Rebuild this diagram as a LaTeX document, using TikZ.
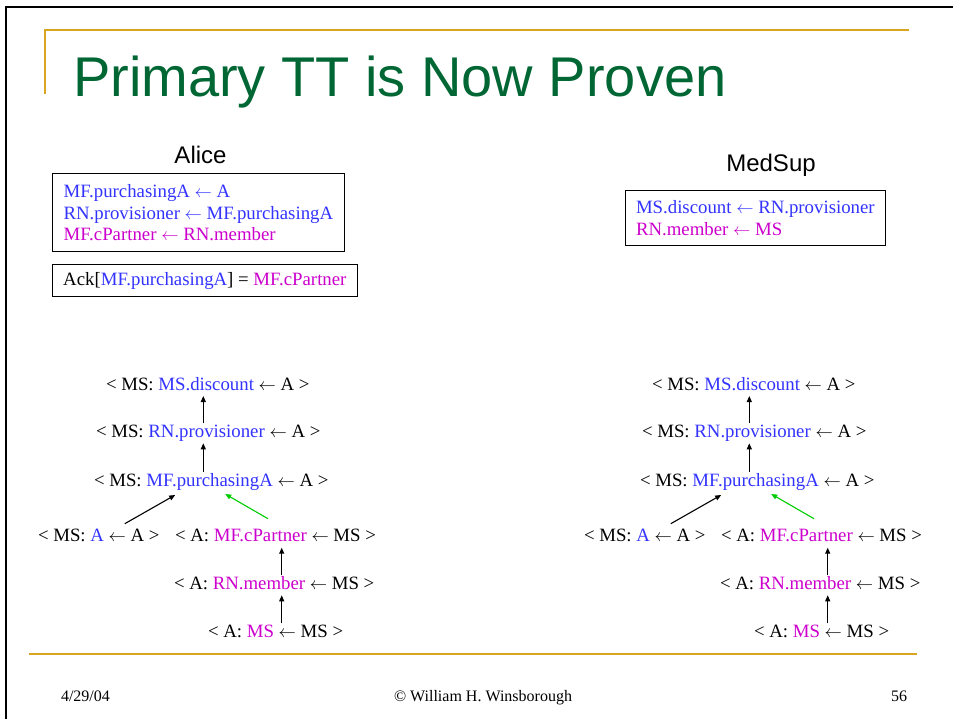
\documentclass[tikz,border=0pt]{standalone}
\usepackage{fontspec}
\setmainfont{Liberation Serif}
\newfontfamily\arialfont{Liberation Sans}
\usetikzlibrary{arrows.meta}

\definecolor{credblue}{RGB}{51,51,255}
\definecolor{credmag}{RGB}{204,0,204}
\definecolor{slidegreen}{RGB}{0,102,51}
\definecolor{slidegold}{RGB}{218,165,32}
\definecolor{chaingreen}{RGB}{0,204,0}

\newcommand{\bl}[1]{\textcolor{credblue}{#1}}
\newcommand{\mg}[1]{\textcolor{credmag}{#1}}
\newcommand{\arrowfrom}{\ensuremath{\leftarrow}}

\begin{document}
\begin{tikzpicture}[x=1pt,y=-1pt,inner sep=0pt,outer sep=0pt,
cred/.style={draw,line width=1pt,anchor=north west,align=left,font=\fontsize{18.8}{21.7}\selectfont},
stmt/.style={anchor=base west,inner xsep=0pt,inner ysep=2pt,text height=12pt,text depth=4pt,font=\fontsize{18.8}{21.7}\selectfont},
pf/.style={-{Triangle[length=6pt,width=5pt]},line width=1.1pt},
owner/.style={anchor=base,font=\arialfont\fontsize{24}{28}\selectfont},
foot/.style={font=\fontsize{16}{18}\selectfont}]

\useasboundingbox (0,0) rectangle (953,719);
\draw[line width=2.3pt] (6,719) -- (6,7) -- (953,7);
\draw[slidegold,line width=2pt] (45,94) -- (45,30.5) -- (909,30.5);
\draw[slidegold,line width=2pt] (29,654) -- (917,654);

\draw (73,97) node[anchor=base west,text=slidegreen,font=\arialfont\fontsize{56}{60}\selectfont] (title) {Primary TT is Now Proven};

\draw (200.5,163.3) node[owner] (alice) {Alice};
\draw (771,171.7) node[owner] (medsup) {MedSup};

\draw (52.7,174) node[cred,minimum width=291.3pt,minimum height=77.7pt] (aliceCreds)
  {\bl{MF.purchasingA \arrowfrom\ A}\\ \bl{RN.provisioner \arrowfrom\ MF.purchasingA}\\ \mg{MF.cPartner \arrowfrom\ RN.member}};
\draw (52.7,265) node[cred,minimum width=304.3pt,minimum height=31.7pt,text height=14pt,text depth=4pt] (aliceAck)
  {Ack[\bl{MF.purchasingA}] = \mg{MF.cPartner}};
\draw (625.7,190.7) node[cred,minimum width=259.3pt,minimum height=55.3pt] (medsupCreds)
  {\bl{MS.discount \arrowfrom\ RN.provisioner}\\ \mg{RN.member \arrowfrom\ MS}};

\foreach \s/\dx in {L/0,R/546} {
  \coordinate (upper\s) at (203.3+\dx,0);
  \coordinate (lower\s) at (281.7+\dx,0);
  \draw (106+\dx,390) node[stmt] (disc\s) {< MS: \bl{MS.discount} \arrowfrom\ A >};
  \draw (96+\dx,437.3) node[stmt] (prov\s) {< MS: \bl{RN.provisioner} \arrowfrom\ A >};
  \draw (94+\dx,486) node[stmt] (purch\s) {< MS: \bl{MF.purchasingA} \arrowfrom\ A >};
  \draw (38+\dx,541.7) node[stmt] (self\s) {< MS: \bl{A} \arrowfrom\ A >};
  \draw (175+\dx,541.7) node[stmt] (cpart\s) {< A: \mg{MF.cPartner} \arrowfrom\ MS >};
  \draw (174+\dx,589.3) node[stmt] (memb\s) {< A: \mg{RN.member} \arrowfrom\ MS >};
  \draw (208+\dx,637.3) node[stmt] (ms\s) {< A: \mg{MS} \arrowfrom\ MS >};
  \draw[pf] (prov\s.north -| upper\s) -- (disc\s.south -| upper\s);
  \draw[pf] (purch\s.north -| upper\s) -- (prov\s.south -| upper\s);
  \draw[pf] ([xshift=26pt,yshift=4pt]self\s.north) -- ([xshift=-36pt,yshift=-3pt]purch\s.south);
  \draw[pf,chaingreen] ([xshift=-7.5pt,yshift=9pt]cpart\s.north) -- ([xshift=14pt,yshift=-2pt]purch\s.south);
  \draw[pf] (memb\s.north -| lower\s) -- (cpart\s.south -| lower\s);
  \draw[pf] (ms\s.north -| lower\s) -- (memb\s.south -| lower\s);
}

\draw (61,701) node[foot,anchor=base west] (date) {4/29/04};
\draw (483,701) node[foot,anchor=base] (copyright) {© William H. Winsborough};
\draw (907,701) node[foot,anchor=base east] (page) {56};
\end{tikzpicture}
\end{document}
